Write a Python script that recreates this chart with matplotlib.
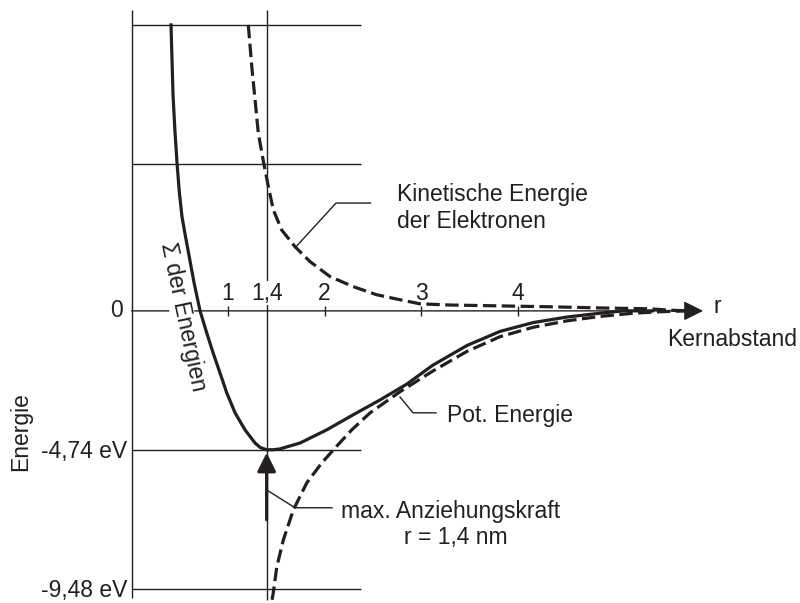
import matplotlib
matplotlib.use("Agg")
import matplotlib.pyplot as plt

plt.rcParams['font.family'] = ['Liberation Sans', 'DejaVu Sans']

# ---------------- data ----------------
# Sum of energies (solid)
sum_r = [0.409, 0.430, 0.449, 0.472, 0.495, 0.523, 0.554, 0.585, 0.648, 0.710,
         0.779, 0.845, 0.917, 0.987, 1.073, 1.176, 1.280, 1.332, 1.40, 1.466,
         1.539, 1.642, 1.746, 2.023, 2.295, 2.575, 2.852, 3.124, 3.477, 3.819,
         4.161, 4.513, 4.855, 5.10, 5.40]
sum_E = [9.76, 7.37, 6.18, 5.02, 4.06, 3.21, 2.63, 2.08, 0.96, 0.00,
         -0.75, -1.43, -2.12, -2.80, -3.48, -4.06, -4.51, -4.66, -4.74, -4.74,
         -4.71, -4.61, -4.51, -4.06, -3.55, -3.04, -2.50, -1.85, -1.18, -0.70,
         -0.40, -0.21, -0.08, 0.00, 0.00]

# Potential energy (dashed)
pot_r = [1.456, 1.469, 1.505, 1.573, 1.677, 1.816, 1.971, 2.109, 2.282, 2.472,
         2.782, 3.124, 3.477, 3.819, 4.161, 4.513, 4.855, 5.197, 5.477, 5.74]
pot_E = [-9.86, -9.62, -8.74, -7.82, -6.79, -5.87, -5.19, -4.68, -4.06, -3.48,
         -2.76, -2.05, -1.38, -0.88, -0.56, -0.34, -0.19, -0.08, -0.03, 0.00]

# Kinetic energy of the electrons (dashed)
kin_r = [1.210, 1.246, 1.280, 1.314, 1.371, 1.418, 1.469, 1.556, 1.694, 1.850,
         2.057, 2.295, 2.541, 2.782, 2.990, 3.301, 3.819, 4.337, 4.855, 5.373,
         5.549, 5.74]
kin_E = [9.76, 8.34, 7.20, 6.06, 5.02, 4.24, 3.45, 2.76, 2.19, 1.68,
         1.17, 0.83, 0.55, 0.38, 0.24, 0.20, 0.17, 0.14, 0.10, 0.07,
         0.03, 0.00]

xtick_vals = [1, 1.4, 2, 3, 4]
xtick_labels = ["1", "1,4", "2", "3", "4"]
ytick_vals = [0, -4.74, -9.48]
ytick_labels = ["0", "-4,74 eV", "-9,48 eV"]
grid_levels = [9.76, 5.02, -4.74, -9.48]
r_min = 1.4

# ---------------- figure ----------------
C = '#231f20'
FS = 16.5
fig = plt.figure(figsize=(8, 6.03), dpi=100)
ax = fig.add_axes([0, 0, 1, 1])
ax.set_xlim(-1.363, 6.927)
ax.set_ylim(-9.97, 10.61)
ax.axis('off')

# frame lines
ax.hlines(grid_levels, 0, 2.378, color=C, lw=1.0, zorder=1)
ax.vlines(0, -9.80, 10.27, color=C, lw=1.0, zorder=1)
ax.vlines(r_min, -9.86, 10.27, color=C, lw=1.0, zorder=1)
ax.vlines([1, 2, 3, 4], -0.17, 0.17, color=C, lw=1.0, zorder=1)

# x axis with arrow
ax.annotate('', xy=(5.923, 0), xytext=(0, 0),
            arrowprops=dict(arrowstyle='-|>', mutation_scale=30, lw=1.0,
                            color=C, shrinkA=0, shrinkB=0), zorder=1)

# curves
dash = (0, (4.2, 1.7))
ax.plot(sum_r, sum_E, color=C, lw=2.3, zorder=3, solid_joinstyle='round')
ax.plot(pot_r, pot_E, color=C, lw=2.3, ls=dash, zorder=3)
ax.plot(kin_r, kin_E, color=C, lw=2.3, ls=dash, zorder=3)

# arrow at minimum
ax.annotate('', xy=(r_min, -4.84), xytext=(r_min, -7.13),
            arrowprops=dict(arrowstyle='-|>', mutation_scale=28, lw=2.3,
                            color=C, shrinkA=0, shrinkB=0), zorder=4)

# leader lines
ax.plot([1.705, 2.119, 2.477], [2.19, 3.68, 3.68], color=C, lw=1.0, zorder=2)
ax.plot([2.782, 2.917, 3.155], [-2.94, -3.48, -3.48], color=C, lw=1.0, zorder=2)
ax.plot([r_min, 1.694, 2.078], [-6.11, -6.72, -6.72], color=C, lw=1.0, zorder=2)

wb = dict(fc='white', ec='none', pad=0.5)

# x tick labels
for v, lab in zip(xtick_vals, xtick_labels):
    ax.text(v, 0.61, lab, ha='center', va='center', fontsize=FS, color=C,
            bbox=wb, zorder=2)

# y tick labels
ax.text(-0.088, ytick_vals[0], ytick_labels[0], ha='right', va='center', fontsize=FS, color=C)
ax.text(-0.047, ytick_vals[1] - 0.06, ytick_labels[1], ha='right', va='center', fontsize=FS, color=C)
ax.text(-0.047, ytick_vals[2] - 0.08, ytick_labels[2], ha='right', va='center', fontsize=FS, color=C)

# axis titles
ax.text(-1.145, -4.13, "Energie", rotation=90, ha='center', va='center',
        fontsize=FS, color=C)
ax.text(6.026, 0.14, "r", ha='left', va='center', fontsize=FS, color=C)
ax.text(5.549, -0.99, "Kernabstand", ha='left', va='center', fontsize=FS, color=C)

# annotations
ax.text(2.751, 3.96, "Kinetische Energie", ha='left', va='center', fontsize=FS, color=C)
ax.text(2.751, 3.04, "der Elektronen", ha='left', va='center', fontsize=FS, color=C)
ax.text(3.269, -3.56, "Pot. Energie", ha='left', va='center', fontsize=FS, color=C)
ax.text(3.311, -6.85, "max. Anziehungskraft", ha='center', va='center', fontsize=FS, color=C)
ax.text(3.363, -7.75, "r = 1,4 nm", ha='center', va='center', fontsize=FS, color=C)
ax.text(0.534, -0.20, "Σ der Energien", rotation=-78, rotation_mode='anchor',
        ha='center', va='center', fontsize=FS, color=C, bbox=wb, zorder=2)

fig.savefig("out.png", dpi=100)
